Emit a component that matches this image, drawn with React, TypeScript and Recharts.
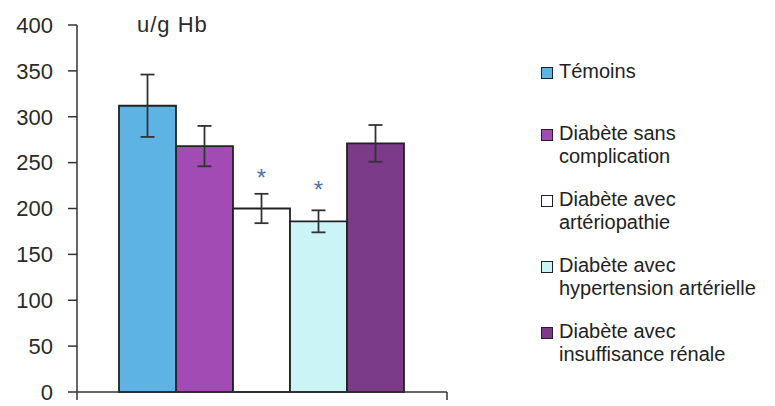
import React from 'react'
import { BarChart, Bar, XAxis, YAxis, ErrorBar, LabelList } from 'recharts'

// Activité moyenne par groupe (u/g Hb) avec écart
const groups = [
  'Témoins',
  'Diabète sans complication',
  'Diabète avec artériopathie',
  'Diabète avec hypertension artérielle',
  'Diabète avec insuffisance rénale',
]
const legendLines = [
  ['Témoins'],
  ['Diabète sans', 'complication'],
  ['Diabète avec', 'artériopathie'],
  ['Diabète avec', 'hypertension artérielle'],
  ['Diabète avec', 'insuffisance rénale'],
]
const means = [312, 268, 200, 186, 271]
const errors = [34, 22, 16, 12, 20]
const significant = [false, false, true, true, false]
const colors = ['#5cb3e4', '#a34bb4', '#ffffff', '#cbf4f7', '#7c3b89']
const yTicks = [0, 50, 100, 150, 200, 250, 300, 350, 400]

const row: Record<string, string | number> = { group: '' }
groups.forEach((_, i) => {
  row[`v${i}`] = means[i]
  row[`e${i}`] = errors[i]
})
const data = [row]

const FONT = '"Liberation Sans", Arial, sans-serif'
const AXIS = '#333'

const EdgeTicks = (props: any) => {
  const { x, y, width } = props
  return (
    <g>
      <line x1={x - width / 2} y1={y} x2={x - width / 2} y2={y + 8} stroke={AXIS} strokeWidth={1.5} />
      <line x1={x + width / 2} y1={y} x2={x + width / 2} y2={y + 8} stroke={AXIS} strokeWidth={1.5} />
    </g>
  )
}

const Star = (props: any) => {
  const { x, y, width } = props
  return (
    <text x={x + width / 2} y={y - 23} textAnchor="middle" fontSize={24} fill="#4d6fa8" fontFamily={FONT}>
      *
    </text>
  )
}

export default function App() {
  return (
    <div style={{ position: 'absolute', left: 0, top: 0, width: 775, height: 406, background: '#fff', fontFamily: FONT }}>
      <BarChart
        width={775}
        height={406}
        data={data}
        margin={{ top: 25, right: 328, bottom: 0, left: 0 }}
        barCategoryGap={42}
        barGap={0}
      >
        <YAxis
          domain={[0, 400]}
          ticks={yTicks}
          width={77}
          tickSize={9}
          tickMargin={15}
          interval={0}
          axisLine={{ stroke: AXIS, strokeWidth: 1.5 }}
          tickLine={{ stroke: AXIS, strokeWidth: 1.5 }}
          tick={{ fill: '#2a2a2a', fontSize: 22, fontFamily: FONT }}
        />
        <XAxis
          dataKey="group"
          height={14}
          tickSize={0}
          tickMargin={0}
          tickLine={false}
          axisLine={{ stroke: AXIS, strokeWidth: 1.5 }}
          tick={<EdgeTicks />}
        />
        {groups.map((g, i) => (
          <Bar
            key={g}
            dataKey={`v${i}`}
            name={g}
            fill={colors[i]}
            stroke="#222"
            strokeWidth={1.8}
            isAnimationActive={false}
          >
            <ErrorBar dataKey={`e${i}`} width={7} stroke="#333" strokeWidth={1.8} />
            {significant[i] && <LabelList dataKey={`v${i}`} content={<Star />} />}
          </Bar>
        ))}
      </BarChart>

      <div style={{ position: 'absolute', left: 137, top: 12, fontSize: 22, letterSpacing: 1, color: '#2a2a2a' }}>u/g Hb</div>

      <div style={{ position: 'absolute', left: 541, top: 60, fontSize: 20, color: '#222', lineHeight: '23px' }}>
        {legendLines.map((lines, i) => (
          <div key={i} style={{ display: 'flex', alignItems: 'flex-start', height: i === 0 ? 62 : 66 }}>
            <span
              style={{
                display: 'inline-block',
                width: 10,
                height: 10,
                marginTop: 7,
                marginRight: 6,
                background: colors[i],
                border: '1.5px solid #222',
                flexShrink: 0,
              }}
            />
            <span>
              {lines.map((l, j) => (
                <div key={j}>{l}</div>
              ))}
            </span>
          </div>
        ))}
      </div>
    </div>
  )
}
